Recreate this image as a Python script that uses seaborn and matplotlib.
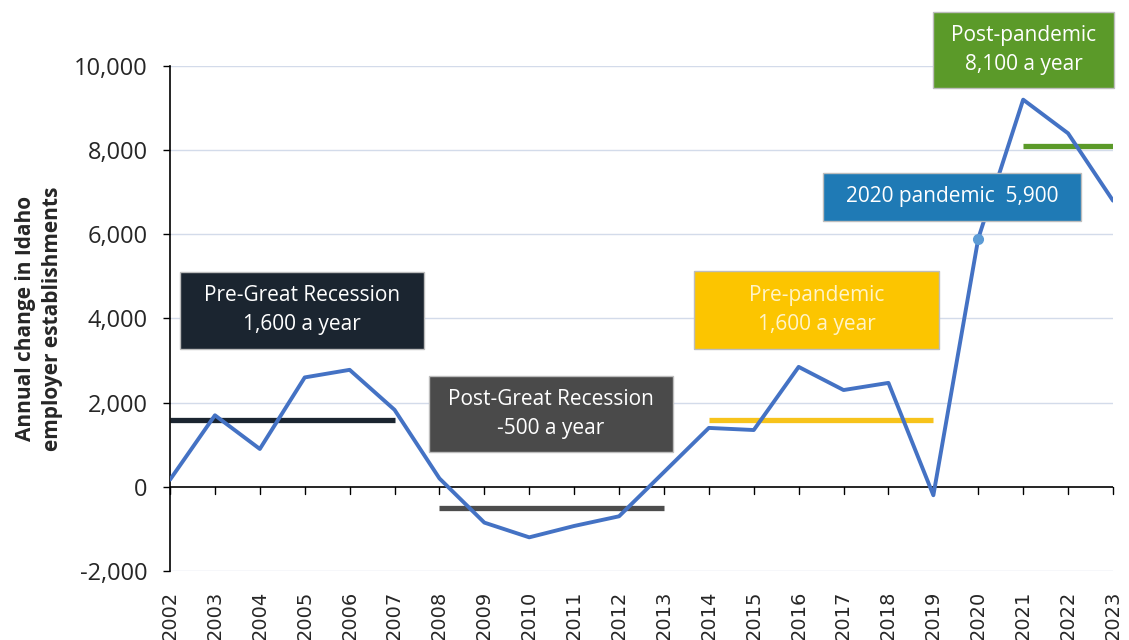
import pandas as pd
import matplotlib.pyplot as plt
import seaborn as sns
from matplotlib.patches import Rectangle

# Daten
years = list(range(2002, 2024))
change = [170, 1700, 900, 2600, 2780, 1830, 200, -850, -1200, -930, -700, 350,
          1400, 1350, 2850, 2300, 2470, -200, 5900, 9200, 8400, 6800]

period_start = [2002, 2008, 2014, 2021]
period_end = [2007, 2013, 2019, 2023]
period_avg = [1600, -500, 1600, 8100]
period_colors = ["#1b2530", "#4d4d4d", "#f7c31b", "#5b9a29"]

pandemic_year = 2020
pandemic_value = 5900

box_texts = ["Pre-Great Recession\n1,600 a year", "Post-Great Recession\n-500 a year",
             "Pre-pandemic\n1,600 a year", "2020 pandemic  5,900",
             "Post-pandemic\n8,100 a year"]
box_fill = ["#1b2530", "#4a4a4a", "#fcc500", "#1f7ab5", "#5b9a29"]
box_text_color = ["white", "white", "#fff4c8", "white", "white"]
# Boxen: (x0, y0, breite, hoehe) in Datenkoordinaten
box_rects = [(2002.22, 3278, 5.44, 1829), (2007.77, 831, 5.43, 1806),
             (2013.67, 3278, 5.46, 1853), (2016.54, 6318, 5.75, 1140),
             (2018.99, 9477, 4.03, 1806)]

df = pd.DataFrame({"year": years, "change": change})

sns.set_theme(style="white")
plt.rcParams['font.family'] = ['Open Sans', 'DejaVu Sans']

fig = plt.figure(figsize=(11.29, 6.40), dpi=100)
ax = fig.add_axes([0.1506, 0.1078, 0.8352, 0.7891])

for y in range(-2000, 10001, 2000):
    if y != 0:
        ax.axhline(y, color="#d3dbea", lw=1, zorder=0)

ax.hlines(period_avg, period_start, period_end, colors=period_colors, lw=3.8, zorder=2)

sns.lineplot(data=df, x="year", y="change", color="#4472c4", lw=2.8, ax=ax, zorder=3)
ax.plot([pandemic_year], [pandemic_value], "o", color="#5b9bd5", ms=7, zorder=4)

ax.axhline(0, color="black", lw=1.2, zorder=1)

for (x0, y0, w, h), txt, fc, tc in zip(box_rects, box_texts, box_fill, box_text_color):
    ax.add_patch(Rectangle((x0, y0), w, h, facecolor=fc, edgecolor="#bdbdbd",
                           lw=1, zorder=5, clip_on=False))
    ax.text(x0 + w / 2, y0 + h / 2, txt, ha="center", va="center", color=tc,
            fontsize=15, linespacing=1.5, zorder=6, clip_on=False)

ax.set_xlim(2002, 2023)
ax.set_ylim(-2000, 10000)
ax.set_yticks(range(-2000, 10001, 2000))
ax.set_yticklabels([f"{v:,}" for v in range(-2000, 10001, 2000)], fontsize=17)
ax.set_xticks(years)
ax.set_xticklabels([str(y) for y in years], rotation=90, fontsize=14,
                   family=['DejaVu Sans'])

for side in ["top", "right", "bottom"]:
    ax.spines[side].set_visible(False)
ax.spines["left"].set_color("black")
ax.spines["left"].set_linewidth(1.2)

ax.tick_params(axis="y", left=True, length=5, width=1, color="black", pad=11)
ax.tick_params(axis="x", bottom=False, pad=8)
# X-Ticks an der Nulllinie
for y in years:
    ax.plot([y, y], [0, -180], color="black", lw=1, zorder=1, clip_on=False)

ax.set_xlabel("")
ax.set_ylabel("Annual change in Idaho\nemployer establishments", fontsize=15,
              fontweight="bold", labelpad=8, linespacing=1.35)

plt.savefig("out.png", dpi=100)
plt.close()
